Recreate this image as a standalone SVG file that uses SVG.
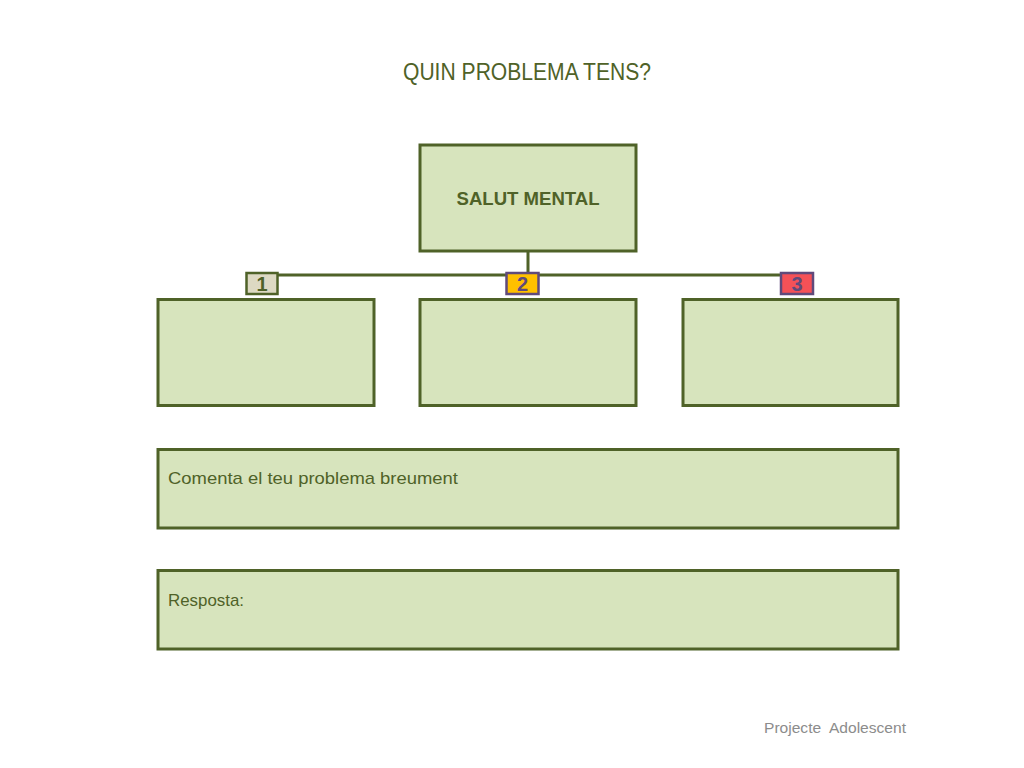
<svg xmlns="http://www.w3.org/2000/svg" width="1024" height="768" viewBox="0 0 1024 768">
<style>
.box{fill:#D7E4BD;stroke:#4F6228;stroke-width:3}
.t{font-family:"Liberation Sans",Arial,sans-serif;fill:#4F6228}
.badge{stroke-width:2.5}
.conn{stroke:#4F6228;stroke-width:3;fill:none}
</style>
<rect width="1024" height="768" fill="#FFFFFF"/>
<text class="t" x="527" y="80" font-size="23" text-anchor="middle" textLength="248" lengthAdjust="spacingAndGlyphs">QUIN PROBLEMA TENS?</text>
<g id="connectors">
<path class="conn" d="M528 252 V275 M262 275 H797"/>
</g>
<g id="salut-mental">
<rect class="box" x="420" y="145" width="216" height="106"/>
<text class="t" x="528" y="205" font-size="18.5" font-weight="bold" text-anchor="middle" textLength="143" lengthAdjust="spacingAndGlyphs">SALUT MENTAL</text>
</g>
<g id="box1">
<rect class="box" x="158" y="299.5" width="216" height="106"/>
</g>
<g id="box2">
<rect class="box" x="420" y="299.5" width="216" height="106"/>
</g>
<g id="box3">
<rect class="box" x="683" y="299.5" width="215" height="106"/>
</g>
<g id="badge1">
<rect class="badge" x="246.5" y="273" width="31" height="21" fill="#DDD9C3" stroke="#4F6228"/>
<text class="t" x="262" y="290.5" font-size="20" font-weight="bold" text-anchor="middle">1</text>
</g>
<g id="badge2">
<rect class="badge" x="506.5" y="273" width="32" height="21" fill="#FFC000" stroke="#604A7B"/>
<text class="t" x="522.5" y="290.5" font-size="20" font-weight="bold" text-anchor="middle" style="fill:#604A7B">2</text>
</g>
<g id="badge3">
<rect class="badge" x="781" y="273" width="32" height="21" fill="#F55157" stroke="#604A7B"/>
<text class="t" x="797" y="290.5" font-size="20" font-weight="bold" text-anchor="middle" style="fill:#604A7B">3</text>
</g>
<g id="comment">
<rect class="box" x="158" y="449.5" width="740" height="78.5"/>
<text class="t" x="168" y="484" font-size="17" textLength="290" lengthAdjust="spacingAndGlyphs">Comenta el teu problema breument</text>
</g>
<g id="response">
<rect class="box" x="158" y="570.5" width="740" height="78.5"/>
<text class="t" x="168" y="605.5" font-size="17" textLength="76" lengthAdjust="spacingAndGlyphs">Resposta:</text>
</g>
<text x="764" y="733" font-family="Liberation Sans,Arial,sans-serif" font-size="14" fill="#8C8C8C" textLength="142" lengthAdjust="spacingAndGlyphs" xml:space="preserve">Projecte  Adolescent</text>
</svg>
